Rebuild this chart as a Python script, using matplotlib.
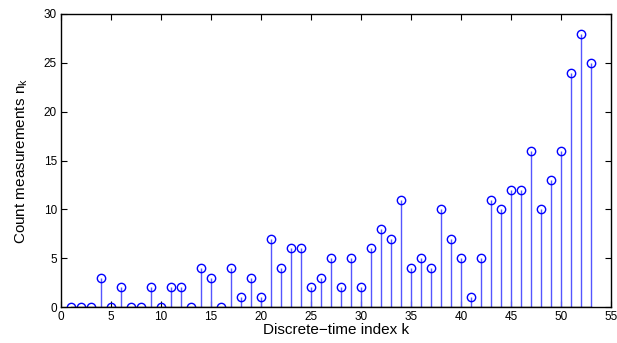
import numpy as np
import matplotlib
matplotlib.use("Agg")
import matplotlib.pyplot as plt

plt.rcParams['font.family'] = ['Liberation Sans', 'DejaVu Sans']

k = np.arange(1, 54)
counts = [0, 0, 0, 3, 0, 2, 0, 0, 2, 0,
          2, 2, 0, 4, 3, 0, 4, 1, 3, 1,
          7, 4, 6, 6, 2, 3, 5, 2, 5, 2,
          6, 8, 7, 11, 4, 5, 4, 10, 7, 5,
          1, 5, 11, 10, 12, 12, 16, 10, 13, 16,
          24, 28, 25]

fig = plt.figure(figsize=(6.17, 3.43), dpi=100)
ax = fig.add_axes([61 / 617, 36 / 343, 550 / 617, 293 / 343])

markerline, stemlines, baseline = ax.stem(k, counts, basefmt='k-')
plt.setp(stemlines, color='#5555ff', linewidth=1.0)
plt.setp(markerline, color='blue', marker='o', markersize=6,
         markerfacecolor='none', markeredgewidth=1.0)
plt.setp(baseline, linewidth=1.0)

ax.set_xlim(0, 55)
ax.set_ylim(0, 30)
ax.set_xticks(range(0, 56, 5))
ax.set_yticks(range(0, 31, 5))
ax.tick_params(direction='in', top=True, right=True, labelsize=8.5, length=4, pad=3)
for s in ax.spines.values():
    s.set_linewidth(1.0)
ax.set_xlabel("Discrete\u2212time index k", fontsize=11, labelpad=0)
ax.set_ylabel("Count measurements n$_\\mathregular{k}$", fontsize=11, labelpad=10)

fig.savefig("out.png", dpi=100)
